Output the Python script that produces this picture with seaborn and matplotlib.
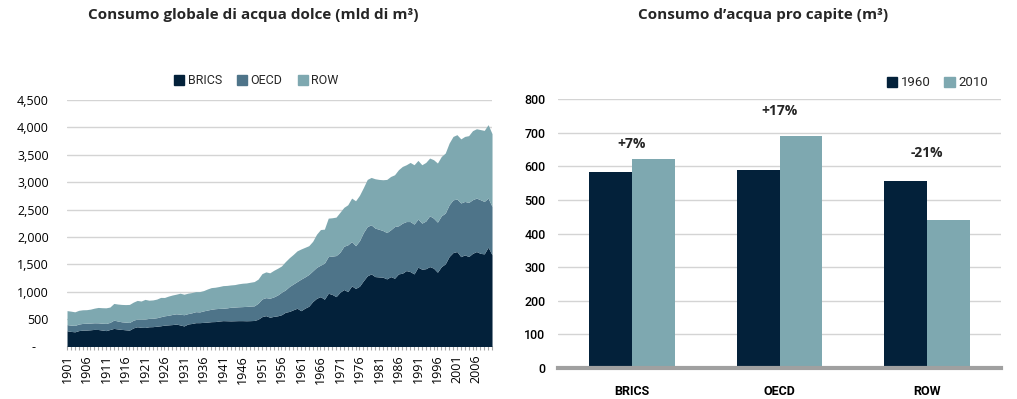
import numpy as np
import pandas as pd
import matplotlib
matplotlib.use("Agg")
import matplotlib.pyplot as plt
import seaborn as sns
from matplotlib.patches import Patch
from matplotlib.ticker import FuncFormatter, MultipleLocator

# ---------------- data ----------------
years = list(range(1901, 2011))
brics = [287, 275, 268, 290, 299, 300, 305, 312, 310, 300,
         290, 310, 330, 320, 312, 305, 299, 340, 360, 350,
         347, 360, 362, 370, 378, 390, 395, 400, 409, 393,
         375, 411, 420, 435, 435, 440, 445, 453, 455, 465,
         472, 470, 468, 470, 472, 472, 470, 472, 475, 497,
         545, 563, 534, 550, 560, 580, 625, 640, 670, 698,
         654, 700, 735, 820, 880, 910, 863, 972, 950, 910,
         990, 1040, 1002, 1106, 1060, 1100, 1200, 1290, 1325, 1276,
         1270, 1265, 1234, 1276, 1246, 1325, 1338, 1386, 1367, 1325,
         1448, 1411, 1420, 1459, 1430, 1356, 1459, 1508, 1642, 1715,
         1733, 1640, 1673, 1642, 1700, 1733, 1700, 1691, 1813, 1673]
oecd = [113, 115, 117, 120, 122, 125, 123, 121, 122, 125,
        131, 130, 152, 145, 139, 140, 140, 140, 140, 145,
        153, 153, 153, 155, 165, 170, 175, 185, 188, 196,
        205, 189, 195, 201, 196, 210, 220, 227, 235, 230,
        226, 235, 248, 250, 253, 256, 262, 266, 267, 293,
        323, 329, 347, 355, 380, 410, 408, 455, 470, 487,
        576, 570, 580, 560, 565, 575, 658, 670, 700, 750,
        730, 790, 854, 810, 780, 830, 880, 900, 896, 885,
        870, 852, 846, 854, 944, 878, 914, 895, 914, 909,
        877, 841, 870, 927, 913, 914, 927, 927, 945, 963,
        957, 980, 975, 988, 980, 976, 980, 957, 896, 883]
row = [255, 255, 248, 250, 249, 247, 254, 267, 281, 283,
       285, 280, 304, 310, 317, 320, 329, 330, 341, 335,
       360, 332, 335, 340, 353, 335, 350, 355, 358, 384,
       374, 373, 370, 366, 371, 370, 385, 395, 392, 400,
       413, 410, 408, 410, 420, 427, 428, 435, 443, 440,
       462, 470, 464, 485, 488, 480, 517, 525, 540, 561,
       550, 540, 525, 540, 605, 650, 621, 701, 700, 702,
       730, 710, 731, 793, 820, 830, 820, 860, 865, 901,
       910, 927, 970, 974, 945, 1024, 1035, 1037, 1079, 1084,
       1072, 1066, 1070, 1054, 1067, 1079, 1084, 1096, 1127, 1157,
       1177, 1170, 1187, 1219, 1260, 1266, 1280, 1297, 1341, 1329]
regions = ["BRICS", "OECD", "ROW"]

pc_regions = ["BRICS", "OECD", "ROW"]
pc_1960 = [583, 590, 556]
pc_2010 = [622, 691, 440]
pc_change = ["+7%", "+17%", "-21%"]
bar_years = ["1960", "2010"]

# ---------------- style ----------------
NAVY = "#03213a"
STEEL = "#4e7489"
TEAL = "#7ea8b0"
GRID = "#d4d4d4"

sns.set_theme(style="white")
plt.rcParams['font.family'] = ['Open Sans', 'DejaVu Sans']

fig = plt.figure(figsize=(10.17, 3.99), dpi=100)

# ---------------- left: stacked area ----------------
ax1 = fig.add_axes([0.0659, 0.1316, 0.4179, 0.6178])
ax1.stackplot(years, brics, oecd, row, colors=[NAVY, STEEL, TEAL],
              labels=regions, linewidth=0)
ax1.set_xlim(years[0], years[-1])
ax1.set_ylim(0, 4500)
ax1.yaxis.set_major_locator(MultipleLocator(500))
ax1.yaxis.set_major_formatter(FuncFormatter(lambda v, p: "-    " if v == 0 else f"{int(v):,}"))
ax1.grid(axis='y', color=GRID, lw=1)
ax1.grid(axis='x', visible=False)
ax1.set_axisbelow(True)
for s in ax1.spines.values():
    s.set_visible(False)
ax1.set_xticks(years[::5])
ax1.set_xticklabels([str(y) for y in years[::5]], rotation=90)
ax1.set_xticks(years, minor=True)
ax1.tick_params(axis='x', which='both', bottom=True, length=3, color='#a8a8a8',
                width=0.8, pad=3, labelsize=9, labelcolor='black')
ax1.tick_params(axis='y', length=0, labelsize=9, pad=13, labelcolor='black')

fig.legend(handles=[Patch(color=NAVY), Patch(color=STEEL), Patch(color=TEAL)],
           labels=regions, loc='center', bbox_to_anchor=(0.252, 0.797), ncol=3,
           frameon=False, handlelength=0.8, handleheight=0.8, handletextpad=0.3,
           columnspacing=1.2, prop={'family': 'Roboto', 'size': 9})

fig.text(253 / 1017, 1 - 15 / 399, "Consumo globale di acqua dolce (mld di m³)",
         ha='center', va='center', fontsize=11, fontweight='bold')

# ---------------- right: grouped bars ----------------
ax2 = fig.add_axes([0.5487, 0.0777, 0.4356, 0.6737])
df = pd.DataFrame({
    "region": pc_regions * 2,
    "year": [bar_years[0]] * 3 + [bar_years[1]] * 3,
    "value": pc_1960 + pc_2010,
})
sns.barplot(data=df, x="region", y="value", hue="year", palette=[NAVY, TEAL],
            width=0.58, gap=0, saturation=1, legend=False, ax=ax2, linewidth=0)
ax2.set_xlim(-0.5, 2.5)
ax2.set_ylim(0, 800)
ax2.yaxis.set_major_locator(MultipleLocator(100))
ax2.grid(axis='y', color=GRID, lw=1)
ax2.grid(axis='x', visible=False)
ax2.set_axisbelow(True)
ax2.set_xlabel("")
ax2.set_ylabel("")
for k, s in ax2.spines.items():
    s.set_visible(k == 'bottom')
ax2.spines['bottom'].set_color('#a0a0a0')
ax2.spines['bottom'].set_linewidth(3)
ax2.tick_params(axis='y', length=0, labelsize=9, pad=9, labelcolor='black')
ax2.tick_params(axis='x', length=0, pad=12, labelcolor='black')
for lab in ax2.get_yticklabels():
    lab.set_family('Roboto')
    lab.set_fontweight('medium')
for lab in ax2.get_xticklabels():
    lab.set_family('Roboto')
    lab.set_fontweight('bold')
    lab.set_fontsize(9)

label_y = [667, 765, 640]
for i, (txt, yy) in enumerate(zip(pc_change, label_y)):
    ax2.text(i, yy, txt, ha='center', va='center', fontsize=10, fontweight='bold')

fig.legend(handles=[Patch(color=NAVY), Patch(color=TEAL)], labels=bar_years,
           loc='center', bbox_to_anchor=(0.922, 0.792), ncol=2, frameon=False,
           handlelength=0.8, handleheight=0.8, handletextpad=0.3, columnspacing=1.0,
           prop={'family': 'Roboto', 'size': 9.5})

fig.text(763 / 1017, 1 - 15 / 399, "Consumo d’acqua pro capite (m³)",
         ha='center', va='center', fontsize=11, fontweight='bold')

fig.savefig("out.png", dpi=100)
